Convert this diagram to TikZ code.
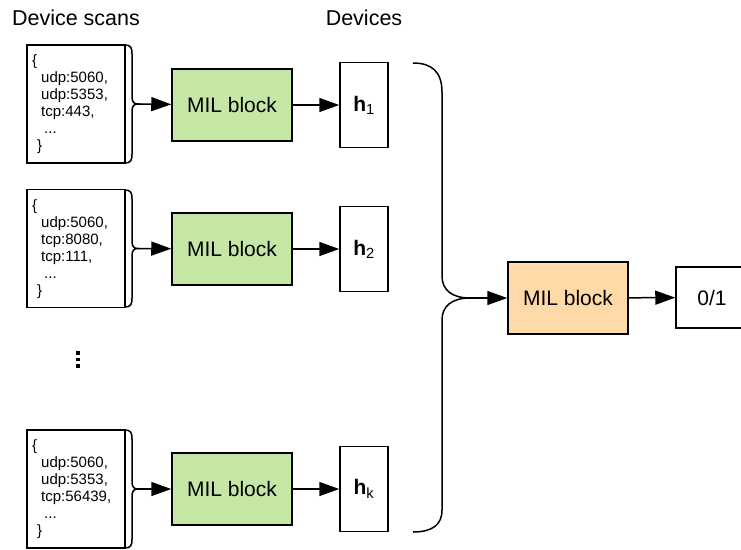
\documentclass[tikz,border=0pt]{standalone}
\usepackage{fontspec}
\setmainfont{Liberation Sans}
\usetikzlibrary{arrows.meta}

\definecolor{milgreen}{RGB}{197,230,165}
\definecolor{milorange}{RGB}{255,218,168}

\tikzset{
  scanbox/.style={draw, line width=1.5pt, minimum width=98pt, minimum height=118pt, inner sep=0pt},
  scantext/.style={align=left, anchor=north west, inner sep=0pt, font=\fontsize{15}{17}\selectfont},
  milbox/.style={draw, line width=1.5pt, fill=milgreen, minimum width=120pt, minimum height=72pt, font=\fontsize{21}{24}\selectfont},
  devbox/.style={draw, line width=1.5pt, minimum width=48pt, minimum height=85pt, font=\fontsize{21}{24}\selectfont},
  outbox/.style={draw, line width=1.5pt, minimum width=72pt, minimum height=61pt, font=\fontsize{21}{24}\selectfont},
  title/.style={font=\fontsize{21.5}{24}\selectfont},
  curly/.style={line width=1.5pt},
  link/.style={line width=1.5pt, -{Triangle[length=20pt,width=14pt]}}
}

% right hand brace of a scan box: top, bottom, name of its tip
\newcommand{\scanbrace}[3]{%
  \pgfmathsetmacro{\bmid}{(#1+#2)/2}%
  \draw[curly] (125,#1) .. controls (131,#1) and (132,#1+3) .. (132,#1+9)
    -- (132,\bmid-7) .. controls (132,\bmid-2) and (134,\bmid) .. (138,\bmid)
    .. controls (134,\bmid) and (132,\bmid+2) .. (132,\bmid+7)
    -- (132,#2-9) .. controls (132,#2-3) and (131,#2) .. (125,#2);
  \coordinate (#3) at (138,\bmid);}

\begin{document}
\begin{tikzpicture}[x=1pt,y=-1pt]
\useasboundingbox (0,0) rectangle (741,549);

\node[title] (scanstitle) at (76,18) {Device scans};
\node[title] (devtitle) at (364,18) {Devices};

%%% scans
\node[scanbox] (s1) at (76,104) {};
\node[scanbox] (s2) at (76,248.5) {};
\node[scanbox] (s3) at (76,489) {};
\scanbrace{45}{163}{b1}
\scanbrace{190}{307}{b2}
\scanbrace{430}{548}{b3}

\node[scantext] (t1) at (32,54) {\{\\\hspace{9pt}udp:5060,\\\hspace{9pt}udp:5353,\\\hspace{9pt}tcp:443,\\\hspace{12pt}...\\\hspace{5pt}\}};
\node[scantext] (t2) at (32,199) {\{\\\hspace{9pt}udp:5060,\\\hspace{9pt}tcp:8080,\\\hspace{9pt}tcp:111,\\\hspace{12pt}...\\\hspace{5pt}\}};
\node[scantext] (t3) at (32,439) {\{\\\hspace{9pt}udp:5060,\\\hspace{9pt}udp:5353,\\\hspace{9pt}tcp:56439,\\\hspace{12pt}...\\\hspace{5pt}\}};

% vertical dots between the scans
\coordinate (dots) at (78,359.5);
\foreach \dy in {-6.5,0,6.5}
  \fill ([shift={(-1.6,\dy-1.6)}]dots) rectangle ++(3.2,3.2);

%%% MIL blocks and devices
\node[milbox] (m1) at (232,105) {MIL block};
\node[milbox] (m2) at (232,249) {MIL block};
\node[milbox] (m3) at (232,489) {MIL block};

\node[devbox] (h1) at (364,105) {\textbf{h}\textsubscript{1}};
\node[devbox] (h2) at (364,249) {\textbf{h}\textsubscript{2}};
\node[devbox] (hk) at (364,489) {\textbf{h}\textsubscript{k}};

\draw[link] (b1) -- (m1);
\draw[link] (b2) -- (m2);
\draw[link] (b3) -- (m3);
\draw[link] (m1) -- (h1);
\draw[link] (m2) -- (h2);
\draw[link] (m3) -- (hk);

%%% pooling
\draw[curly] (413,63) .. controls (432,63) and (442,72) .. (442,92)
  -- (442,276) .. controls (442,290) and (452,298) .. (470,298)
  .. controls (452,298) and (442,306) .. (442,320)
  -- (442,510) .. controls (442,525) and (432,532) .. (413,532);
\coordinate (bigtip) at (470,298);

\node[milbox, fill=milorange] (mout) at (568,298) {MIL block};
\node[outbox] (out) at (712,297.5) {0/1};

\draw[link] (bigtip) -- (mout);
\draw[link] (mout) -- (out);
\end{tikzpicture}
\end{document}
